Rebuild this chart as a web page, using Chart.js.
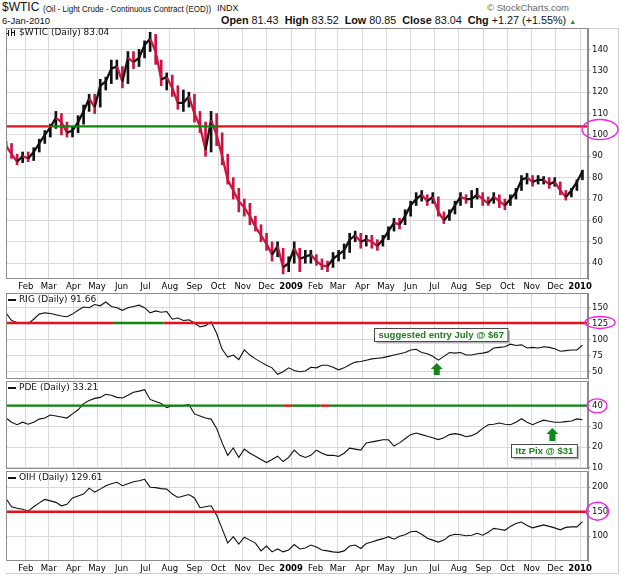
<!DOCTYPE html>
<html>
<head>
<meta charset="utf-8">
<script src="https://cdn.jsdelivr.net/npm/chart.js@4.4.1/dist/chart.umd.min.js"></script>
<style>
body { margin: 0; background: #fff; width: 622px; height: 578px; overflow: hidden; position: relative; font-family: "Liberation Sans", Arial, sans-serif; }
canvas { position: absolute; left: 0; }
.t { position: absolute; white-space: nowrap; color: #111; }
.t b { font-weight: bold; }
#frame { position: absolute; left: 6px; top: 28px; width: 612px; height: 544px; border: 1px solid #cdcdcd; border-left: none; }
</style>
</head>
<body>
<div id="frame"></div>
<div class="t" style="left:2px;top:0px;font-size:12px">$WTIC</div>
<div class="t" style="left:43px;top:3px;font-size:9.5px;transform:scaleX(0.84);transform-origin:0 0">(Oil - Light Crude - Continuous Contract (EOD))</div>
<div class="t" style="left:217px;top:3px;font-size:9px">INDX</div>
<div class="t" style="left:487px;top:2px;font-size:9.5px;color:#666">&copy; StockCharts.com</div>
<div class="t" style="left:2px;top:15px;font-size:9.5px">6-Jan-2010</div>
<div class="t" style="left:221px;top:14px;font-size:10.8px"><b>Open</b> 81.43 &nbsp;<b>High</b> 83.52 &nbsp;<b>Low</b> 80.85 &nbsp;<b>Close</b> 83.04 &nbsp;<b>Chg</b> +1.27 (+1.55%) <span style="font-size:7px;color:#2a8a2a">&#9650;</span></div>

<canvas id="cWti" width="622" height="271" style="top:22px"></canvas>
<canvas id="cRig" width="622" height="98" style="top:287px"></canvas>
<canvas id="cPde" width="622" height="100" style="top:375px"></canvas>
<canvas id="cOih" width="622" height="110" style="top:465px"></canvas>

<script>
// x axis: days counted from 7-Jan-2008, one value per week
const startDate = new Date(2008, 0, 7);
const monthLabels = ['Feb', 'Mar', 'Apr', 'May', 'Jun', 'Jul', 'Aug', 'Sep', 'Oct', 'Nov', 'Dec', '2009',
                     'Feb', 'Mar', 'Apr', 'May', 'Jun', 'Jul', 'Aug', 'Sep', 'Oct', 'Nov', 'Dec', '2010'];

// weekly values
const wtiClose = [95, 91, 87.5, 90, 89, 92, 96, 100, 103.5, 108, 106, 101, 102, 106, 111, 117, 113, 123, 125, 131,
  132, 125, 136, 134, 136, 142, 145, 139, 126, 127, 122, 115, 115, 118, 110, 104, 93, 107, 100, 90,
  79, 74, 69, 66, 62, 57, 53, 49, 44, 48, 38, 40, 47, 42, 43, 44, 41, 39, 38.5, 42,
  44, 46, 51, 53, 50, 51, 50, 48, 51, 55, 59, 58, 62, 67, 70, 72, 69, 71, 64, 60,
  63, 67, 71, 70, 70, 72, 70, 68, 71, 69, 67, 70, 73, 79, 80, 78, 79, 79, 77, 78,
  74, 71, 74, 78, 83.04];
const wtiLow = [93, 89, 86, 87, 87.5, 88, 92, 96, 99, 103, 100, 99, 99, 101, 105, 111, 110, 113, 121, 124,
  126, 122, 124, 131, 132, 136, 139, 133, 123, 121, 118, 112, 111, 113, 106, 101, 90, 92, 95, 86,
  77, 70, 64, 62, 58, 55, 50, 46, 41, 43, 35, 36, 40, 36, 40, 40, 39, 37, 36, 38,
  41, 42, 45, 50, 47, 48, 47, 46, 48, 51, 55, 56, 58, 62, 67, 69, 67, 68, 62, 58.5,
  60, 63, 67, 68, 66, 70, 67, 67, 68, 66, 65, 67, 70, 74, 77, 76, 77, 77, 75, 76,
  72, 69.5, 71, 74, 79];
const wtiHigh = [97, 96, 91, 92, 92, 94, 98, 102, 105, 111, 110, 106, 104, 109, 114, 119, 119, 126, 127, 135,
  135, 132, 139, 139, 140, 144, 148, 147, 135, 129, 128, 123, 121, 120, 119, 111, 106, 111, 110, 101,
  91, 80, 75, 70, 68, 62, 58, 54, 50, 50, 47, 43, 50, 47, 46, 46, 44, 42, 41, 45,
  46, 49, 54, 55, 54, 53, 53, 51, 53, 57, 61, 61, 65, 69, 73, 74, 72, 73, 71, 64,
  65, 69, 73, 72, 74, 75, 73, 71, 73, 72, 70, 72, 75, 81, 82, 81, 81, 80.5, 80, 80,
  78, 74, 75, 79, 83.52];
const rigClose = [142, 130, 127, 126, 125, 132, 140, 142, 141, 139, 137, 136, 140, 146, 151, 150, 155, 153, 159, 152,
  150, 146, 150, 152, 154, 150, 142, 145, 143, 144, 132, 134, 130, 131, 126, 120, 122, 128, 110, 85,
  73, 76, 69, 84, 76, 70, 65, 60, 56, 46, 50, 56, 52, 50, 51, 57, 56, 60, 60, 57,
  53, 56, 61, 65, 66, 68, 70, 71, 72, 74, 76, 78, 80, 84, 85, 80, 78, 74, 68, 74,
  80, 79, 80, 76, 76, 78, 79, 81, 87, 88, 89, 93, 91, 92, 87, 88, 87, 89, 88, 86,
  82, 83, 84, 84, 91.66];
const pdeClose = [34, 32, 30.8, 32, 31, 32, 33.5, 34, 35.5, 35, 34.5, 34, 36, 38, 41, 42.5, 43.5, 44, 45.5, 45,
  44, 43.7, 45, 46.5, 47, 47.7, 43, 42, 41, 39, 40, 39.8, 40, 40.5, 36, 35, 34, 33.5, 29, 22,
  16, 19.6, 15, 19, 17, 15.6, 14, 12.5, 14, 15.6, 13, 15, 18.5, 16, 15, 16, 18.5, 17, 16, 16,
  15.5, 17, 19.5, 19, 18.5, 22, 22.5, 23, 23.5, 23.5, 20.5, 22, 24, 26, 26.8, 26, 25.2, 24.5, 23.6, 24.5,
  26, 26.5, 26, 25, 25.5, 26.8, 29, 30.8, 31, 31.6, 31, 30.8, 32, 33.7, 32, 30.8, 32, 33, 32.5, 32,
  32, 32.3, 32.6, 33.6, 33.21];
const oihClose = [177, 160, 157, 155, 151, 160, 168, 175, 172, 169, 162, 165, 178, 182, 186, 198, 190, 196, 203, 207,
  210, 203, 207, 211, 213, 216, 200, 199, 197, 196, 186, 179, 182, 185, 178, 158, 160, 162, 143, 115,
  86, 99, 84, 98, 92, 86, 70, 80, 68, 74, 68, 72, 83, 74, 76, 82, 78, 72, 70, 68,
  67, 70, 80, 82, 75, 85, 88, 92, 95, 99, 94, 100, 103, 109, 110, 104, 96, 92, 88, 92,
  101, 104, 103, 101, 102, 106, 102, 108, 116, 114, 112, 120, 126, 129, 122, 117, 120, 123, 120, 117,
  113, 118, 119, 119, 129.61];

// right axis ticks
const wtiTicks = [40, 50, 60, 70, 80, 90, 100, 110, 120, 130, 140];
const rigTicks = [50, 75, 100, 125, 150];
const pdeTicks = [10, 20, 30, 40];
const oihTicks = [100, 150, 200];

// drawn level lines: level, then [fromDay, toDay, colour]
const RED = '#e4121c', GREEN = '#0b860b';
const wtiLevel = 104, wtiLevelParts = [[0, 56, RED], [56, 267, GREEN], [267, 735, RED]];
const rigLevel = 126, rigLevelParts = [[0, 135, RED], [135, 199, GREEN], [199, 735, RED]];
const pdeLevel = 40, pdeLevelParts = [[0, 350, GREEN], [350, 360, RED], [360, 397, GREEN], [397, 408, RED], [408, 735, GREEN]];
const oihLevel = 150, oihLevelParts = [[0, 735, RED]];

const weekDays = wtiClose.map((v, i) => i * 7);
const monthDays = monthLabels.map((l, i) => Math.round((new Date(2008, 1 + i, 1) - startDate) / 864e5));
const BAR_RED = '#cc1440';

const panelDeco = {
  id: 'panelDeco',
  afterDraw(chart, args, o) {
    const { ctx, chartArea: a, scales } = chart;
    const y = scales.y, x = scales.x;
    ctx.save();
    ctx.strokeStyle = '#8c8c8c';
    ctx.lineWidth = 1;
    ctx.strokeRect(a.left + 0.5, a.top + 0.5, a.right - a.left - 1, a.bottom - a.top - 1);

    // series label
    const ly = a.top + (o.labelDy || 7);
    ctx.fillStyle = '#111';
    if (o.icon === 'bars') {
      ctx.fillRect(a.left + 2, ly - 3, 1, 6);
      ctx.fillRect(a.left + 5, ly - 4, 1, 7);
      ctx.fillRect(a.left + 8, ly - 3, 1, 6);
      ctx.fillRect(a.left + 1, ly, 2, 1);
      ctx.fillRect(a.left + 6, ly - 1, 2, 1);
    } else {
      ctx.fillRect(a.left + 2, ly - 1, 8, 2);
    }
    ctx.font = '9px "DejaVu Sans"';
    ctx.textBaseline = 'middle';
    ctx.fillText(o.label, a.left + 13, ly);

    // note box
    if (o.note) {
      ctx.font = 'bold 9.5px "Liberation Sans"';
      const w = ctx.measureText(o.note.text).width + 8, h = 13;
      const cx = x.getPixelForValue(o.note.x), cy = y.getPixelForValue(o.note.y);
      const bx = Math.round(cx - w / 2) + 0.5, by = Math.round(cy - h / 2) + 0.5;
      ctx.fillStyle = '#b5b5b5';
      ctx.fillRect(bx + 2, by + 2, w, h);
      ctx.fillStyle = '#fff';
      ctx.fillRect(bx, by, w, h);
      ctx.strokeStyle = '#4a4a4a';
      ctx.strokeRect(bx, by, w, h);
      ctx.fillStyle = '#1c7f1c';
      ctx.textAlign = 'center';
      ctx.fillText(o.note.text, bx + w / 2, by + h / 2 + 0.5);
      ctx.textAlign = 'left';
    }

    // arrow
    if (o.arrow) {
      const ax = x.getPixelForValue(o.arrow.x);
      const t = y.getPixelForValue(o.arrow.top), b = y.getPixelForValue(o.arrow.bottom);
      ctx.fillStyle = '#11861a';
      ctx.beginPath();
      ctx.moveTo(ax, t);
      ctx.lineTo(ax + 6, t + 6);
      ctx.lineTo(ax + 3, t + 6);
      ctx.lineTo(ax + 3, b);
      ctx.lineTo(ax - 3, b);
      ctx.lineTo(ax - 3, t + 6);
      ctx.lineTo(ax - 6, t + 6);
      ctx.closePath();
      ctx.fill();
    }

    // magenta ring on the axis
    if (o.ring) {
      ctx.strokeStyle = '#f020f0';
      ctx.lineWidth = 1.4;
      ctx.beginPath();
      ctx.ellipse(a.right + o.ring.dx, y.getPixelForValue(o.ring.value), o.ring.rx, o.ring.ry, 0, 0, Math.PI * 2);
      ctx.stroke();
    }
    ctx.restore();
  }
};

function panel(id, p) {
  const datasets = p.parts.map(s => ({
    data: [{ x: s[0], y: p.level }, { x: s[1], y: p.level }],
    borderColor: s[2], borderWidth: 2.4, pointRadius: 0, order: 0
  }));
  datasets.push({
    data: p.values.map((v, i) => ({ x: weekDays[i], y: v })),
    borderColor: '#111', borderWidth: p.width, pointRadius: 0, order: 1,
    tension: 0, segment: p.segment
  });
  if (p.low) {
    // weekly high-low bars under the close line
    datasets.push({
      type: 'bar',
      data: p.low.map((v, i) => ({ x: weekDays[i], y: [v, p.high[i]] })),
      backgroundColor: p.values.map((v, i) => i > 0 && v < p.values[i - 1] ? BAR_RED : '#111'),
      barThickness: 2, borderWidth: 0, order: 2
    });
  }

  new Chart(document.getElementById(id), {
    type: 'line',
    data: { datasets },
    options: {
      responsive: false,
      animation: false,
      events: [],
      layout: { padding: { left: 6, right: 0, top: 6, bottom: p.showX ? 0 : 6 } },
      plugins: { legend: { display: false }, tooltip: { enabled: false }, panelDeco: p.deco },
      scales: {
        x: {
          type: 'linear', min: 0, max: 735, offset: false,
          afterBuildTicks: s => { s.ticks = monthDays.map(v => ({ value: v })); },
          afterFit: s => { s.height = p.showX ? 14 : 0; s.paddingLeft = 0; s.paddingRight = 0; },
          ticks: {
            display: p.showX, autoSkip: false, maxRotation: 0, padding: 3, color: '#000',
            callback: (v, i) => monthLabels[i],
            font: c => ({ family: 'DejaVu Sans', size: 8.5, weight: monthLabels[c.index] && monthLabels[c.index].length === 4 ? 'bold' : 'normal' })
          },
          grid: { color: '#dadada', drawTicks: false, offset: false },
          border: { display: false }
        },
        y: {
          position: 'right', min: p.min, max: p.max,
          afterBuildTicks: s => { s.ticks = p.ticks.map(v => ({ value: v })); },
          afterFit: s => { s.width = 34; s.paddingTop = 0; s.paddingBottom = 0; },
          ticks: { padding: 2, color: '#111', font: { family: 'DejaVu Sans', size: 8.5 } },
          grid: { color: '#dadada', tickLength: 2, tickColor: '#888' },
          border: { color: '#8c8c8c' }
        }
      }
    },
    plugins: [panelDeco]
  });
}

panel('cWti', {
  values: wtiClose, low: wtiLow, high: wtiHigh, ticks: wtiTicks, min: 32.6, max: 150, level: wtiLevel, parts: wtiLevelParts,
  showX: true, width: 2.3,
  segment: { borderColor: c => c.p1.parsed.y < c.p0.parsed.y ? BAR_RED : '#111' },
  deco: { label: '$WTIC (Daily) 83.04', icon: 'bars', labelDy: 5, ring: { value: 102.5, dx: 12, rx: 18, ry: 10 } }
});
panel('cRig', {
  values: rigClose, ticks: rigTicks, min: 38.6, max: 173, level: rigLevel, parts: rigLevelParts,
  showX: false, width: 1.1,
  deco: {
    label: 'RIG (Daily) 91.66', icon: 'dash', ring: { value: 127, dx: 12, rx: 15, ry: 6 },
    note: { text: 'suggested entry July @ $67', x: 549, y: 108 },
    arrow: { x: 544, top: 63.6, bottom: 44.8 }
  }
});
panel('cPde', {
  values: pdeClose, ticks: pdeTicks, min: 9.4, max: 51.9, level: pdeLevel, parts: pdeLevelParts,
  showX: false, width: 1.1,
  deco: {
    label: 'PDE (Daily) 33.21', icon: 'dash', ring: { value: 39.9, dx: 9, rx: 10, ry: 7 },
    note: { text: 'Itz Pix @ $31', x: 679, y: 18.1 },
    arrow: { x: 690, top: 29.2, bottom: 22.9 }
  }
});
panel('cOih', {
  values: oihClose, ticks: oihTicks, min: 49.4, max: 233, level: oihLevel, parts: oihLevelParts,
  showX: true, width: 1.1,
  deco: { label: 'OIH (Daily) 129.61', icon: 'dash', ring: { value: 151, dx: 9.5, rx: 11, ry: 9 } }
});
</script>
</body>
</html>
